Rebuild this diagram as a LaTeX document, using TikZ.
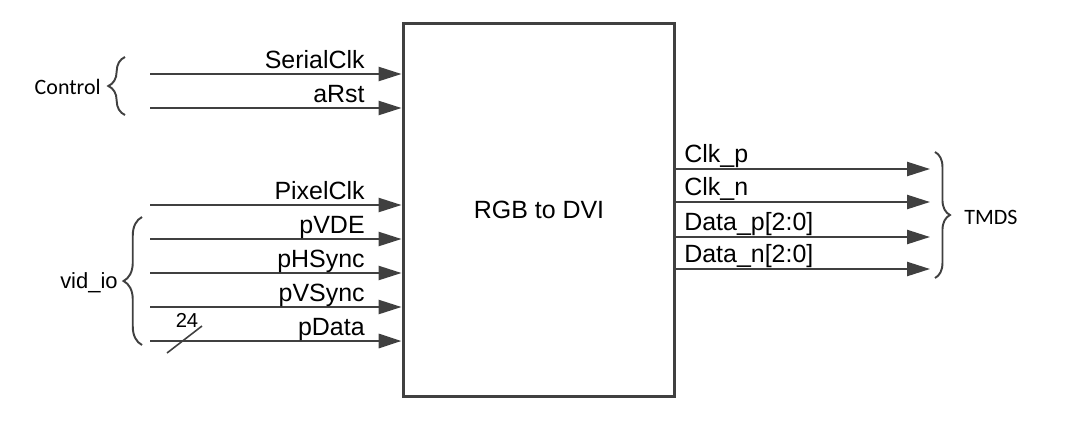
\documentclass[tikz,border=0pt]{standalone}
\usepackage{fontspec}
\setmainfont{Liberation Sans}
\newfontfamily\calib{Carlito}
\usetikzlibrary{arrows.meta,decorations.pathreplacing}
\definecolor{wire}{HTML}{404040}
\tikzset{
  sig/.style={draw=wire, line width=1.1pt, -{Triangle[length=13pt,width=8pt]}},
  bus/.style={sig, line width=1.6pt},
  pin/.style={font=\fontsize{14.2}{16}\selectfont, inner sep=0pt},
  grp/.style={font=\calib\fontsize{12.5}{14}\selectfont, inner sep=0pt},
  brc/.style={draw=wire, line width=1.1pt, decorate, decoration={brace, amplitude=#1}},
}

\begin{document}
\begin{tikzpicture}[x=0.02cm, y=-0.02cm]
\useasboundingbox (0,0) rectangle (1071,427);
% the block
\node[draw=wire, line width=1.7pt, minimum width=5.44cm, minimum height=7.48cm,
      inner sep=0pt, font=\fontsize{14.2}{16}\selectfont] (blk) at (539,210) {RGB to DVI};
%
% control inputs
\coordinate (iSerialClk) at (150,74);
\draw[sig] (iSerialClk) -- (iSerialClk -| blk.west);
\node[pin, anchor=base east] (lSerialClk) at (365,68) {SerialClk};
\coordinate (iaRst) at (150,108);
\draw[sig] (iaRst) -- (iaRst -| blk.west);
\node[pin, anchor=base east] (laRst) at (365,102) {aRst};
\draw[brc=9.5pt] (125,115) -- (125,57);
\node[grp, anchor=east] (ctrl) at (101,87) {Control};
%
% video inputs
\coordinate (iPixelClk) at (150,205);
\draw[sig] (iPixelClk) -- (iPixelClk -| blk.west);
\node[pin, anchor=base east] (lPixelClk) at (365,199) {PixelClk};
\coordinate (ipVDE) at (150,239);
\draw[sig] (ipVDE) -- (ipVDE -| blk.west);
\node[pin, anchor=base east] (lpVDE) at (365,233) {pVDE};
\coordinate (ipHSync) at (150,273);
\draw[sig] (ipHSync) -- (ipHSync -| blk.west);
\node[pin, anchor=base east] (lpHSync) at (365,267) {pHSync};
\coordinate (ipVSync) at (150,307);
\draw[sig] (ipVSync) -- (ipVSync -| blk.west);
\node[pin, anchor=base east] (lpVSync) at (365,301) {pVSync};
\coordinate (ipData) at (150,341);
\draw[bus] (ipData) -- (ipData -| blk.west);
\node[pin, anchor=base east] (lpData) at (365,335) {pData};
\draw[wire, line width=0.9pt] (167,353) -- (202,326);
\node[pin, font=\fontsize{11.5}{13}\selectfont, anchor=base] (width24) at (187,327) {24};
\draw[brc=10.5pt] (142,345) -- (142,217);
\node[pin, font=\fontsize{12.5}{14}\selectfont, anchor=east] (vid) at (118,283) {vid\_io};
%
% TMDS outputs
\coordinate (oClkp) at (930,169);
\draw[sig] (oClkp -| blk.east) -- (oClkp);
\node[pin, anchor=base west] (lClkp) at (684,162) {Clk\_p};
\coordinate (oClkn) at (930,202);
\draw[sig] (oClkn -| blk.east) -- (oClkn);
\node[pin, anchor=base west] (lClkn) at (684,195) {Clk\_n};
\coordinate (oDatap) at (930,237);
\draw[sig] (oDatap -| blk.east) -- (oDatap);
\node[pin, anchor=base west] (lDatap) at (684,230) {Data\_p[2:0]};
\coordinate (oDatan) at (930,269);
\draw[sig] (oDatan -| blk.east) -- (oDatan);
\node[pin, anchor=base west] (lDatan) at (684,262) {Data\_n[2:0]};
\draw[brc=8.5pt] (935,152) -- (935,278);
\node[grp, anchor=west] (tmds) at (964,217) {TMDS};
\end{tikzpicture}
\end{document}
